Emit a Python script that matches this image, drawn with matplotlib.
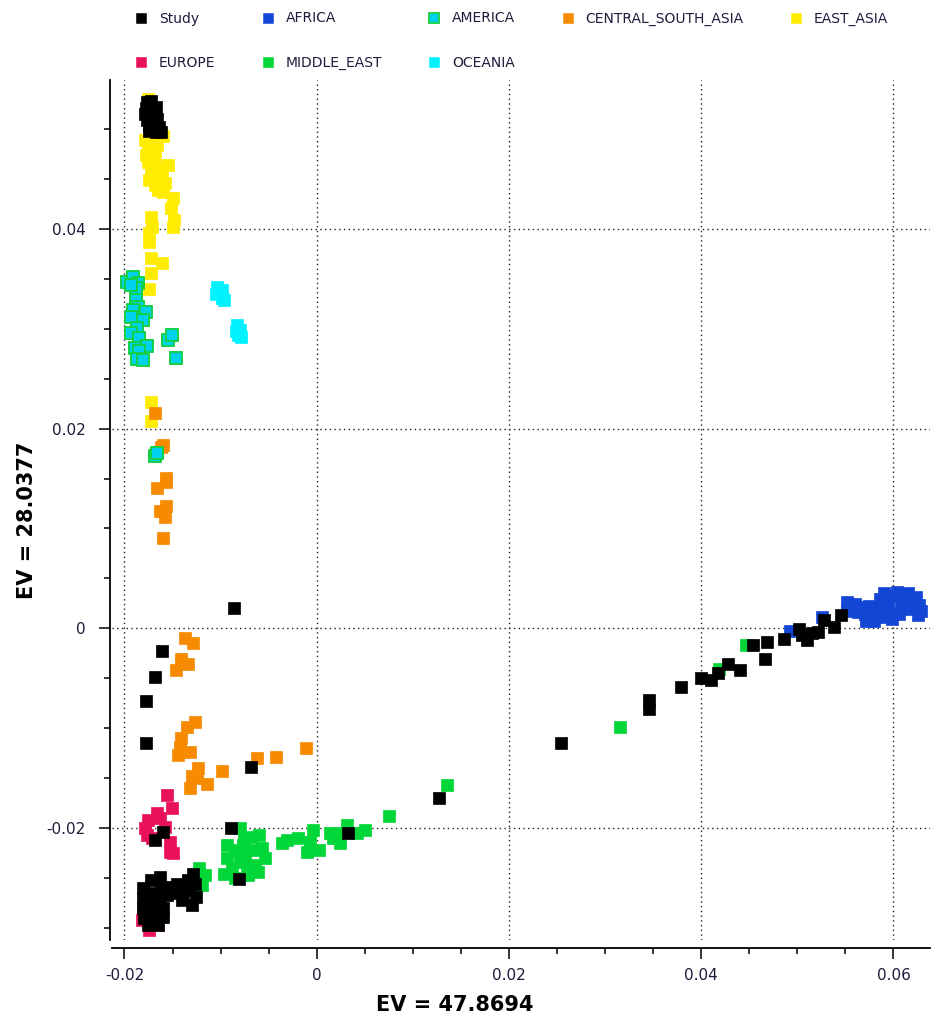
import matplotlib
matplotlib.use("Agg")
import matplotlib.pyplot as plt
from matplotlib.lines import Line2D
from matplotlib.ticker import MultipleLocator

plt.rcParams["font.family"] = ["DejaVu Sans"]
plt.rcParams["axes.unicode_minus"] = False

# PCA coordinates (EV1, EV2)

study_x = [-0.0177, -0.0172, -0.0178, -0.0173, -0.0167, -0.0179, -0.0174, -0.0168, -0.0177, -0.0172,
           -0.0166, -0.0175, -0.0170, -0.0164, -0.0167, -0.0162, -0.0174,
           -0.0086, -0.0161, -0.0168, -0.0178, -0.0178, -0.0068, -0.0160, -0.0168, -0.0089, -0.0081,
           0.0033, 0.0127, 0.0254, 0.0346, 0.0346, 0.0379, 0.0400, 0.0410, 0.0417, 0.0428, 0.0440,
           0.0454, 0.0468, 0.0466, 0.0486, 0.0502, 0.0505, 0.0510, 0.0515, 0.0521, 0.0528, 0.0538, 0.0545,
           -0.0181, -0.0181, -0.0181, -0.0180, -0.0176, -0.0172, -0.0174, -0.0170, -0.0172, -0.0167,
           -0.0163, -0.0162, -0.0163, -0.0160, -0.0156, -0.0153, -0.0148, -0.0145, -0.0139, -0.0140,
           -0.0134, -0.0133, -0.0129, -0.0127, -0.0126, -0.0130, -0.0160, -0.0165]
study_y = [0.0527, 0.0528, 0.0521, 0.0521, 0.0522, 0.0515, 0.0515, 0.0516, 0.0509, 0.0509,
           0.0510, 0.0503, 0.0503, 0.0502, 0.0497, 0.0497, 0.0498,
           0.0020, -0.0023, -0.0049, -0.0073, -0.0115, -0.0139, -0.0204, -0.0212, -0.0200, -0.0251,
           -0.0205, -0.0170, -0.0115, -0.0072, -0.0081, -0.0059, -0.0050, -0.0052, -0.0045, -0.0036, -0.0042,
           -0.0017, -0.0014, -0.0031, -0.0011, -0.0001, -0.0007, -0.0012, -0.0005, -0.0004, 0.0008, 0.0001, 0.0013,
           -0.0260, -0.0270, -0.0280, -0.0290, -0.0297, -0.0252, -0.0265, -0.0275, -0.0285, -0.0292,
           -0.0249, -0.0260, -0.0270, -0.0280, -0.0267, -0.0259, -0.0265, -0.0256, -0.0264, -0.0272,
           -0.0252, -0.0262, -0.0246, -0.0256, -0.0269, -0.0277, -0.0289, -0.0297]

africa_x = [0.0552, 0.0560, 0.0552, 0.0563, 0.0570, 0.0571, 0.0577, 0.0583, 0.0586, 0.0590,
            0.0594, 0.0596, 0.0601, 0.0604, 0.0608, 0.0610, 0.0615, 0.0617, 0.0620, 0.0623,
            0.0627, 0.0629, 0.0625, 0.0591, 0.0598, 0.0606, 0.0580, 0.0492, 0.0526, 0.0567, 0.0575]
africa_y = [0.0026, 0.0024, 0.0017, 0.0016, 0.0014, 0.0007, 0.0011, 0.0019, 0.0029, 0.0035,
            0.0024, 0.0015, 0.0032, 0.0036, 0.0023, 0.0030, 0.0035, 0.0019, 0.0026, 0.0031,
            0.0023, 0.0017, 0.0013, 0.0011, 0.0009, 0.0014, 0.0007, -0.0003, 0.0011, 0.0021, 0.0022]

america_x = [-0.0197, -0.0191, -0.0186, -0.0188, -0.0193, -0.0188, -0.0186, -0.0191, -0.0193, -0.0178,
             -0.0181, -0.0187, -0.0193, -0.0185, -0.0189, -0.0177, -0.0185, -0.0187, -0.0181,
             -0.0155, -0.0151, -0.0146, -0.0168, -0.0166]
america_y = [0.0347, 0.0352, 0.0346, 0.0341, 0.0344, 0.0329, 0.0322, 0.0319, 0.0312, 0.0317,
             0.0309, 0.0301, 0.0296, 0.0291, 0.0281, 0.0283, 0.0278, 0.0270, 0.0269,
             0.0289, 0.0294, 0.0271, 0.0173, 0.0176]

csa_x = [-0.0168, -0.0160, -0.0162, -0.0157, -0.0157, -0.0166, -0.0157, -0.0163, -0.0158, -0.0160,
         -0.0137, -0.0129, -0.0141, -0.0134, -0.0146, -0.0127, -0.0135, -0.0141, -0.0142, -0.0144,
         -0.0132, -0.0124, -0.0130, -0.0125, -0.0132, -0.0114, -0.0099, -0.0062, -0.0042, -0.0011]
csa_y = [0.0216, 0.0184, 0.0182, 0.0151, 0.0147, 0.0141, 0.0123, 0.0117, 0.0111, 0.0090,
         -0.0010, -0.0015, -0.0031, -0.0036, -0.0042, -0.0094, -0.0099, -0.0110, -0.0119, -0.0127,
         -0.0124, -0.0140, -0.0148, -0.0150, -0.0160, -0.0156, -0.0143, -0.0130, -0.0129, -0.0120]

east_asia_x = [-0.0176, -0.0168, -0.0160, -0.0179, -0.0174, -0.0166, -0.0176, -0.0171, -0.0178, -0.0168,
               -0.0176, -0.0155, -0.0163, -0.0172, -0.0161, -0.0174, -0.0158, -0.0168, -0.0165, -0.0160,
               -0.0150, -0.0152, -0.0172, -0.0148, -0.0171, -0.0150, -0.0175, -0.0175, -0.0172, -0.0161,
               -0.0172, -0.0174, -0.0172, -0.0172]
east_asia_y = [0.0530, 0.0491, 0.0493, 0.0489, 0.0484, 0.0484, 0.0479, 0.0477, 0.0474, 0.0471,
               0.0467, 0.0464, 0.0459, 0.0457, 0.0452, 0.0449, 0.0446, 0.0444, 0.0439, 0.0437,
               0.0431, 0.0421, 0.0412, 0.0409, 0.0402, 0.0402, 0.0396, 0.0387, 0.0371, 0.0366,
               0.0356, 0.0340, 0.0227, 0.0208]

europe_x = [-0.0156, -0.0151, -0.0166, -0.0176, -0.0179, -0.0177, -0.0158, -0.0153, -0.0153, -0.0150,
            -0.0171, -0.0163, -0.0181, -0.0174, -0.0165, -0.0182]
europe_y = [-0.0167, -0.0180, -0.0185, -0.0192, -0.0200, -0.0207, -0.0199, -0.0214, -0.0224, -0.0225,
            -0.0210, -0.0190, -0.0285, -0.0302, -0.0297, -0.0292]

middle_east_x = [-0.0122, -0.0116, -0.0124, -0.0119, -0.0127, -0.0080, -0.0068, -0.0077, -0.0085, -0.0093,
                 -0.0075, -0.0064, -0.0057, -0.0054, -0.0064, -0.0073, -0.0080, -0.0088, -0.0096, -0.0085,
                 -0.0072, -0.0061, -0.0093, -0.0060, -0.0076, -0.0036, -0.0031, -0.0020, -0.0004, -0.0007,
                 -0.0010, 0.0002, 0.0017, 0.0024, 0.0032, 0.0042, 0.0050, 0.0014, 0.0021, 0.0075,
                 0.0136, 0.0316, 0.0418, 0.0447]
middle_east_y = [-0.0240, -0.0247, -0.0250, -0.0257, -0.0252, -0.0200, -0.0209, -0.0217, -0.0222, -0.0230,
                 -0.0228, -0.0222, -0.0220, -0.0230, -0.0237, -0.0240, -0.0234, -0.0240, -0.0246, -0.0250,
                 -0.0247, -0.0244, -0.0217, -0.0207, -0.0212, -0.0215, -0.0212, -0.0210, -0.0202, -0.0214,
                 -0.0224, -0.0222, -0.0210, -0.0215, -0.0197, -0.0205, -0.0202, -0.0205, -0.0205, -0.0188,
                 -0.0157, -0.0099, -0.0041, -0.0017]

oceania_x = [-0.0104, -0.0099, -0.0105, -0.0099, -0.0096, -0.0102, -0.0083, -0.0080, -0.0082, -0.0079, -0.0084]
oceania_y = [0.0342, 0.0339, 0.0335, 0.0331, 0.0329, 0.0337, 0.0304, 0.0299, 0.0294, 0.0292, 0.0298]

# label, x, y, fill, edge  (drawn in this order, Study ends up on top)
groups = [
    ("OCEANIA", oceania_x, oceania_y, "#00f2ff", "#00f2ff"),
    ("MIDDLE_EAST", middle_east_x, middle_east_y, "#00d637", "#00d637"),
    ("EUROPE", europe_x, europe_y, "#e8115a", "#e8115a"),
    ("EAST_ASIA", east_asia_x, east_asia_y, "#ffec00", "#ffec00"),
    ("CENTRAL_SOUTH_ASIA", csa_x, csa_y, "#f68a00", "#f68a00"),
    ("AMERICA", america_x, america_y, "#00d2ee", "#12d045"),
    ("AFRICA", africa_x, africa_y, "#1446d6", "#1446d6"),
    ("Study", study_x, study_y, "#000000", "#000000"),
]

fig = plt.figure(figsize=(9.32, 10.23), dpi=100)
ax = fig.add_axes([112 / 932, 83 / 1023, 818 / 932, 860 / 1023])

for label, xs, ys, fc, ec in groups:
    lw = 1.4 if label == "AMERICA" else 0.5
    ax.scatter(xs, ys, marker="s", s=64, c=fc, edgecolors=ec, linewidths=lw)

ax.set_xlim(-0.0213, 0.0638)
ax.set_ylim(-0.0312, 0.0549)

ax.xaxis.set_major_locator(MultipleLocator(0.02))
ax.xaxis.set_minor_locator(MultipleLocator(0.005))
ax.yaxis.set_major_locator(MultipleLocator(0.02))
ax.yaxis.set_minor_locator(MultipleLocator(0.005))
ax.xaxis.set_major_formatter(lambda v, p: "0" if abs(v) < 1e-9 else f"{v:g}")
ax.yaxis.set_major_formatter(lambda v, p: "0" if abs(v) < 1e-9 else f"{v:g}")

ax.grid(True, which="major", color="#222222", linestyle=(0, (1, 2.4)), linewidth=1.0)
ax.set_axisbelow(True)

for side in ["top", "right"]:
    ax.spines[side].set_visible(False)
ax.spines["left"].set_position(("outward", 1.5))
ax.spines["bottom"].set_position(("outward", 6))
ax.spines["left"].set_linewidth(1.3)
ax.spines["bottom"].set_linewidth(1.3)

ax.tick_params(which="major", direction="out", length=8, width=1.1, labelsize=11,
               labelcolor="#1c1c3c")
ax.tick_params(axis="x", which="major", pad=6)
ax.tick_params(axis="y", which="major", pad=9.5)
ax.tick_params(which="minor", direction="out", length=4.5, width=1.1)

ax.set_xlabel("EV = 47.8694", fontsize=15, fontweight="bold")
ax.set_ylabel("EV = 28.0377", fontsize=15, fontweight="bold")
ax.xaxis.set_label_coords(0.419, -0.064)
ax.yaxis.set_label_coords(-0.092, 0.488)

# legend, column-major order so it reads row by row like the original
by_label = {g[0]: g for g in groups}
order = ["Study", "EUROPE", "AFRICA", "MIDDLE_EAST", "AMERICA", "OCEANIA",
         "CENTRAL_SOUTH_ASIA", "EAST_ASIA"]
handles = []
for name in order:
    _, _, _, fc, ec = by_label[name]
    handles.append(Line2D([], [], marker="s", linestyle="none", markersize=7.5,
                          markerfacecolor=fc, markeredgecolor=ec,
                          markeredgewidth=1.3 if name == "AMERICA" else 0.4, label=name))

fig.legend(handles=handles, loc="upper left", bbox_to_anchor=(123 / 932, 1 + 1 / 1023),
           ncol=5, frameon=False, fontsize=10, handlelength=0.8, handletextpad=0.9,
           columnspacing=3.35, labelspacing=2.2, borderpad=0.4, labelcolor="#1c1c3c")

plt.savefig("out.png", dpi=100)
plt.close()
